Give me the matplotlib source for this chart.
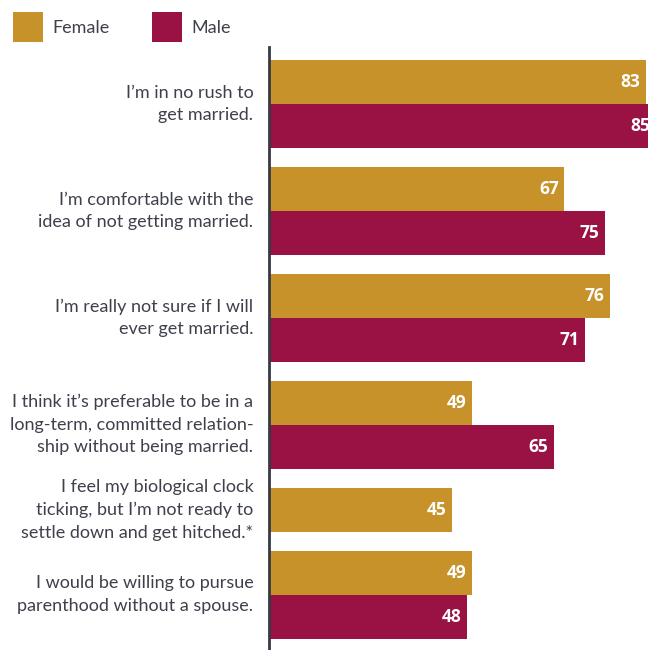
import matplotlib.pyplot as plt
from matplotlib.patches import Rectangle

# survey statements and percentages agreeing
statements = [
    "I\u2019m in no rush to\nget married.",
    "I\u2019m comfortable with the\nidea of not getting married.",
    "I\u2019m really not sure if I will\never get married.",
    "I think it\u2019s preferable to be in a\nlong-term, committed relation-\nship without being married.",
    "I feel my biological clock\nticking, but I\u2019m not ready to\nsettle down and get hitched.*",
    "I would be willing to pursue\nparenthood without a spouse.",
]
female = [83, 67, 76, 49, 45, 49]
male = [85, 75, 71, 65, None, 48]
series_names = ["Female", "Male"]

GOLD = "#C69229"
MAROON = "#9A1143"
TEXT = "#3E404B"

plt.rcParams['font.family'] = ['Lato', 'DejaVu Sans']

fig = plt.figure(figsize=(6.48, 6.50), dpi=100)
ax = fig.add_axes([269.3 / 648, 0, 1 - 269.3 / 648, 603 / 650])


def value_label(v, y):
    ax.annotate(str(v), xy=(v, y), xytext=(-4, 0),
                textcoords='offset points', ha='right', va='center',
                color='white', fontsize=12.5, fontweight='bold',
                family=['Open Sans', 'DejaVu Sans'], annotation_clip=False)


bar_h = 1.0
gap = 0.43
cursor = 0.0
centers = []
for f, m in zip(female, male):
    top = cursor
    ax.barh(cursor + bar_h / 2, f, height=bar_h, color=GOLD, linewidth=0)
    value_label(f, cursor + bar_h / 2)
    cursor += bar_h
    if m is not None:
        ax.barh(cursor + bar_h / 2, m, height=bar_h, color=MAROON, linewidth=0)
        value_label(m, cursor + bar_h / 2)
        cursor += bar_h
    centers.append((top + cursor) / 2)
    cursor += gap
cursor -= gap

for label, c in zip(statements, centers):
    ax.annotate(label, xy=(0, c), xycoords=('axes fraction', 'data'),
                xytext=(-11.5, 0), textcoords='offset points',
                ha='right', va='center', fontsize=13, color=TEXT,
                linespacing=1.5, annotation_clip=False)

ax.set_xlim(9.18, 83.43)
ax.set_ylim(cursor + 0.257, -0.295)
for side in ['top', 'right', 'bottom']:
    ax.spines[side].set_visible(False)
ax.spines['left'].set_color('#363A46')
ax.spines['left'].set_linewidth(2.0)
ax.set_xticks([])
ax.set_yticks([])

# legend swatches along the top
for name, color, x0 in zip(series_names, [GOLD, MAROON], [13, 152]):
    fig.add_artist(Rectangle((x0 / 648, 1 - 42 / 650), 30 / 648, 30 / 650,
                             transform=fig.transFigure, color=color, lw=0))
    fig.text((x0 + 39) / 648, 1 - 28 / 650, name, ha='left', va='center',
             fontsize=13, color=TEXT)

fig.savefig('out.png', dpi=100)
